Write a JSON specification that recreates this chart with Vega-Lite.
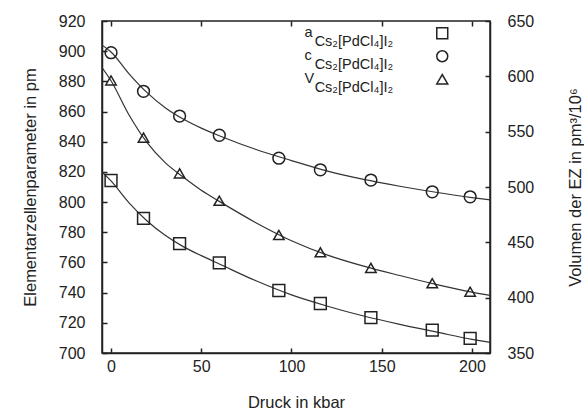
{
  "$schema": "https://vega.github.io/schema/vega-lite/v6.json",
  "width": 388,
  "height": 332,
  "autosize": {"type": "none"},
  "padding": {"left": 102, "top": 21, "right": 94, "bottom": 56},
  "config": {
    "font": "Liberation Sans",
    "view": {"stroke": "#222", "strokeWidth": 1.5},
    "style": {"guide-label": {"lineHeight": 9}},
    "axis": {
      "grid": false,
      "domainColor": "#222",
      "domainWidth": 1.5,
      "tickColor": "#222",
      "tickWidth": 1.5,
      "tickSize": -5,
      "labelFont": "Liberation Sans",
      "labelFontSize": 16,
      "labelColor": "#222",
      "titleFont": "Liberation Sans",
      "titleFontSize": 16.5,
      "titleFontWeight": "normal",
      "titleColor": "#222"
    }
  },
  "datasets": {
    "pts": [
      {"p": 0, "series": "a", "val": 814.3},
      {"p": 18, "series": "a", "val": 789.2},
      {"p": 38, "series": "a", "val": 772.5},
      {"p": 60, "series": "a", "val": 759.7},
      {"p": 93, "series": "a", "val": 741.4},
      {"p": 116, "series": "a", "val": 732.8},
      {"p": 144, "series": "a", "val": 723.4},
      {"p": 178, "series": "a", "val": 715.2},
      {"p": 199, "series": "a", "val": 709.7},
      {"p": 0, "series": "c", "val": 899},
      {"p": 18, "series": "c", "val": 873.4},
      {"p": 38, "series": "c", "val": 857},
      {"p": 60, "series": "c", "val": 844.3},
      {"p": 93, "series": "c", "val": 829.1},
      {"p": 116, "series": "c", "val": 821.4},
      {"p": 144, "series": "c", "val": 814.6},
      {"p": 178, "series": "c", "val": 806.8},
      {"p": 199, "series": "c", "val": 803.5},
      {"p": 0, "series": "V", "val": 596.3},
      {"p": 18, "series": "V", "val": 544.6},
      {"p": 38, "series": "V", "val": 512.3},
      {"p": 60, "series": "V", "val": 487.6},
      {"p": 93, "series": "V", "val": 456.6},
      {"p": 116, "series": "V", "val": 441},
      {"p": 144, "series": "V", "val": 426.9},
      {"p": 178, "series": "V", "val": 413},
      {"p": 199, "series": "V", "val": 405.4}
    ],
    "fit": [
      {"p": -5, "series": "a", "val": 820},
      {"p": 0, "series": "a", "val": 814},
      {"p": 10, "series": "a", "val": 799.5},
      {"p": 20, "series": "a", "val": 787.5},
      {"p": 30, "series": "a", "val": 778},
      {"p": 40, "series": "a", "val": 770.5},
      {"p": 50, "series": "a", "val": 764.5},
      {"p": 60, "series": "a", "val": 759},
      {"p": 80, "series": "a", "val": 748},
      {"p": 100, "series": "a", "val": 738.5},
      {"p": 120, "series": "a", "val": 731},
      {"p": 140, "series": "a", "val": 724.5},
      {"p": 160, "series": "a", "val": 719},
      {"p": 180, "series": "a", "val": 714},
      {"p": 200, "series": "a", "val": 709},
      {"p": 210, "series": "a", "val": 707},
      {"p": -5, "series": "c", "val": 904},
      {"p": 0, "series": "c", "val": 899.5},
      {"p": 10, "series": "c", "val": 885},
      {"p": 20, "series": "c", "val": 872.5},
      {"p": 30, "series": "c", "val": 862.5},
      {"p": 40, "series": "c", "val": 855},
      {"p": 50, "series": "c", "val": 849},
      {"p": 60, "series": "c", "val": 844},
      {"p": 80, "series": "c", "val": 835},
      {"p": 100, "series": "c", "val": 827.5},
      {"p": 120, "series": "c", "val": 820.5},
      {"p": 140, "series": "c", "val": 815},
      {"p": 160, "series": "c", "val": 810.5},
      {"p": 180, "series": "c", "val": 806.5},
      {"p": 200, "series": "c", "val": 803},
      {"p": 210, "series": "c", "val": 801.5},
      {"p": -5, "series": "V", "val": 608},
      {"p": 0, "series": "V", "val": 596},
      {"p": 10, "series": "V", "val": 565},
      {"p": 20, "series": "V", "val": 540},
      {"p": 30, "series": "V", "val": 522},
      {"p": 40, "series": "V", "val": 509},
      {"p": 50, "series": "V", "val": 497},
      {"p": 60, "series": "V", "val": 487},
      {"p": 80, "series": "V", "val": 468},
      {"p": 100, "series": "V", "val": 451.5},
      {"p": 120, "series": "V", "val": 438.5},
      {"p": 140, "series": "V", "val": 428.5},
      {"p": 160, "series": "V", "val": 420},
      {"p": 180, "series": "V", "val": 412},
      {"p": 200, "series": "V", "val": 405},
      {"p": 210, "series": "V", "val": 402}
    ]
  },
  "layer": [
    {
      "data": {"name": "fit"},
      "transform": [{"filter": "datum.series !== 'V'"}],
      "mark": {"type": "line", "interpolate": "monotone", "color": "#333", "strokeWidth": 1.2, "clip": true},
      "encoding": {
        "x": {"field": "p", "type": "quantitative", "scale": {"domain": [-5, 210], "nice": false, "zero": false},
          "axis": {"orient": "bottom", "title": "Druck in kbar", "values": [0, 50, 100, 150, 200], "labelPadding": 10, "titlePadding": 20}},
        "y": {"field": "val", "type": "quantitative", "scale": {"domain": [700, 920], "nice": false, "zero": false},
          "axis": {"orient": "left", "title": "Elementarzellenparameter in pm", "values": [700, 720, 740, 760, 780, 800, 820, 840, 860, 880, 900, 920], "labelPadding": 22, "titlePadding": 20}},
        "detail": {"field": "series"}
      }
    },
    {
      "data": {"name": "pts"},
      "transform": [{"filter": "datum.series !== 'V'"}],
      "mark": {"type": "point", "filled": false, "stroke": "#222", "strokeWidth": 1.5, "size": 140, "opacity": 1},
      "encoding": {
        "x": {"field": "p", "type": "quantitative", "axis": null},
        "y": {"field": "val", "type": "quantitative", "scale": {"domain": [700, 920], "nice": false, "zero": false}, "axis": null},
        "shape": {"field": "series", "type": "nominal",
          "scale": {"domain": ["a", "c", "V"], "range": ["square", "circle", "triangle-up"]},
          "legend": {"orient": "none", "legendX": 333, "legendY": 5, "padding": 0, "title": null, "labelAlign": "left", "labelOffset": -145,
            "labelFontSize": 14.5, "labelColor": "#222", "symbolSize": 120, "symbolStrokeWidth": 1.5, "symbolStrokeColor": "#222", "symbolFillColor": "transparent", "rowPadding": -6,
            "labelExpr": "[datum.label, '\u200b\u2002\u2009Cs\u2082[PdCl\u2084]I\u2082']",
            "encode": {"labels": {"update": {"lineHeight": {"value": 9}, "dy": {"value": 2}}}}}
        }
      }
    },
    {
      "data": {"name": "fit"},
      "transform": [{"filter": "datum.series === 'V'"}],
      "mark": {"type": "line", "interpolate": "monotone", "color": "#333", "strokeWidth": 1.2, "clip": true},
      "encoding": {
        "x": {"field": "p", "type": "quantitative",
          "axis": {"orient": "top", "labels": false, "title": null, "values": [0, 50, 100, 150, 200], "domain": false}},
        "y": {"field": "val", "type": "quantitative", "scale": {"domain": [350, 650], "nice": false, "zero": false},
          "axis": {"orient": "right", "title": "Volumen der EZ in pm\u00b3/10\u2076", "titleAngle": -90, "values": [350, 400, 450, 500, 550, 600, 650], "labelPadding": 22, "titlePadding": 50}},
        "detail": {"field": "series"}
      }
    },
    {
      "data": {"name": "pts"},
      "transform": [{"filter": "datum.series === 'V'"}],
      "mark": {"type": "point", "filled": false, "stroke": "#222", "strokeWidth": 1.5, "size": 110, "opacity": 1},
      "encoding": {
        "x": {"field": "p", "type": "quantitative", "axis": null},
        "y": {"field": "val", "type": "quantitative", "scale": {"domain": [350, 650], "nice": false, "zero": false}, "axis": null},
        "shape": {"field": "series", "type": "nominal",
          "scale": {"domain": ["a", "c", "V"], "range": ["square", "circle", "triangle-up"]},
          "legend": null
        }
      }
    }
  ],
  "resolve": {"scale": {"y": "independent"}, "axis": {"x": "independent", "y": "independent"}}
}
